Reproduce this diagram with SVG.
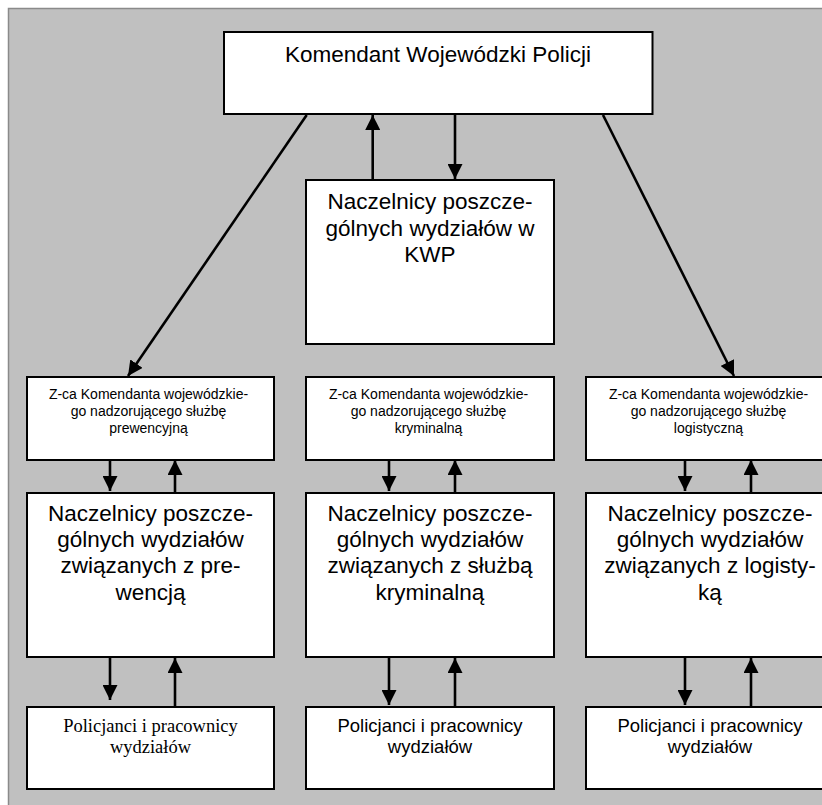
<svg xmlns="http://www.w3.org/2000/svg" width="822" height="805" viewBox="0 0 822 805">
<style>
.box{fill:#ffffff;stroke:#000000;stroke-width:2}
.big{font-family:"Liberation Sans",Arial,sans-serif;font-size:22.5px;fill:#000;text-anchor:middle}
.small{font-family:"Liberation Sans",Arial,sans-serif;font-size:14px;fill:#000;text-anchor:middle}
.mid{font-family:"Liberation Sans",Arial,sans-serif;font-size:18.5px;fill:#000;text-anchor:middle}
.serif{font-family:"Liberation Serif","Times New Roman",serif;font-size:18.5px;fill:#000;text-anchor:middle}
.conn{stroke:#000;stroke-width:2.6;fill:none;marker-end:url(#ah)}
</style>
<defs>
<marker id="ah" markerWidth="15" markerHeight="15" refX="15" refY="7.5" orient="auto" markerUnits="userSpaceOnUse">
<path d="M0,0 L15,7.5 L0,15 z" fill="#000"/>
</marker>
</defs>
<rect x="8.5" y="8.5" width="830" height="810" fill="#c0c0c0" stroke="#8a8a8a" stroke-width="1.5"/>

<g id="connectors">
<line class="conn" x1="372.7" y1="180" x2="372.7" y2="115"/>
<line class="conn" x1="455" y1="114" x2="455" y2="179"/>
<line class="conn" x1="306.7" y1="115" x2="128" y2="376"/>
<line class="conn" x1="603" y1="115" x2="734" y2="376"/>

<line class="conn" x1="110" y1="461" x2="110" y2="491"/>
<line class="conn" x1="175" y1="493" x2="175" y2="460"/>
<line class="conn" x1="389" y1="461" x2="389" y2="491"/>
<line class="conn" x1="455" y1="493" x2="455" y2="460"/>
<line class="conn" x1="685" y1="461" x2="685" y2="491"/>
<line class="conn" x1="751" y1="493" x2="751" y2="460"/>

<line class="conn" x1="110" y1="658" x2="110" y2="700"/>
<line class="conn" x1="175" y1="707" x2="175" y2="658"/>
<line class="conn" x1="389" y1="658" x2="389" y2="705"/>
<line class="conn" x1="455" y1="707" x2="455" y2="658"/>
<line class="conn" x1="685" y1="658" x2="685" y2="705"/>
<line class="conn" x1="751" y1="707" x2="751" y2="658"/>
</g>

<g id="komendant">
<rect class="box" x="224" y="32" width="428.5" height="82"/>
<text class="big" x="438" y="62">Komendant Wojewódzki Policji</text>
</g>

<g id="naczelnicy-kwp">
<rect class="box" x="306" y="180" width="248" height="164"/>
<text class="big" x="430" y="209">Naczelnicy poszcze-</text>
<text class="big" x="430" y="235.5">gólnych wydziałów w</text>
<text class="big" x="430" y="262">KWP</text>
</g>

<g id="zca-prewencja">
<rect class="box" x="27" y="377" width="247" height="83"/>
<text class="small" x="148.5" y="398.5">Z-ca Komendanta wojewódzkie-</text>
<text class="small" x="148.5" y="415.5">go nadzorującego służbę</text>
<text class="small" x="148.5" y="432.5">prewencyjną</text>
</g>

<g id="zca-kryminalna">
<rect class="box" x="306" y="377" width="248" height="83"/>
<text class="small" x="428.5" y="398.5">Z-ca Komendanta wojewódzkie-</text>
<text class="small" x="428.5" y="415.5">go nadzorującego służbę</text>
<text class="small" x="428.5" y="432.5">kryminalną</text>
</g>

<g id="zca-logistyka">
<rect class="box" x="586" y="377" width="248" height="83"/>
<text class="small" x="708.5" y="398.5">Z-ca Komendanta wojewódzkie-</text>
<text class="small" x="708.5" y="415.5">go nadzorującego służbę</text>
<text class="small" x="708.5" y="432.5">logistyczną</text>
</g>

<g id="naczelnicy-prewencja">
<rect class="box" x="27" y="493" width="247" height="164"/>
<text class="big" x="150.5" y="520.7">Naczelnicy poszcze-</text>
<text class="big" x="150.5" y="547">gólnych wydziałów</text>
<text class="big" x="150.5" y="573.3">związanych z pre-</text>
<text class="big" x="150.5" y="599.5">wencją</text>
</g>

<g id="naczelnicy-kryminalna">
<rect class="box" x="306" y="493" width="248" height="164"/>
<text class="big" x="430" y="520.7">Naczelnicy poszcze-</text>
<text class="big" x="430" y="547">gólnych wydziałów</text>
<text class="big" x="430" y="573.3">związanych z służbą</text>
<text class="big" x="430" y="599.5">kryminalną</text>
</g>

<g id="naczelnicy-logistyka">
<rect class="box" x="586" y="493" width="248" height="164"/>
<text class="big" x="710" y="520.7">Naczelnicy poszcze-</text>
<text class="big" x="710" y="547">gólnych wydziałów</text>
<text class="big" x="710" y="573.3">związanych z logisty-</text>
<text class="big" x="710" y="599.5">ką</text>
</g>

<g id="policjanci-prewencja">
<rect class="box" x="27" y="707" width="247" height="82"/>
<text class="serif" x="150.5" y="731.7">Policjanci i pracownicy</text>
<text class="serif" x="150.5" y="752.5">wydziałów</text>
</g>

<g id="policjanci-kryminalna">
<rect class="box" x="306" y="707" width="248" height="82"/>
<text class="mid" x="430" y="731.7">Policjanci i pracownicy</text>
<text class="mid" x="430" y="752.5">wydziałów</text>
</g>

<g id="policjanci-logistyka">
<rect class="box" x="586" y="707" width="248" height="82"/>
<text class="mid" x="710" y="731.7">Policjanci i pracownicy</text>
<text class="mid" x="710" y="752.5">wydziałów</text>
</g>
</svg>
